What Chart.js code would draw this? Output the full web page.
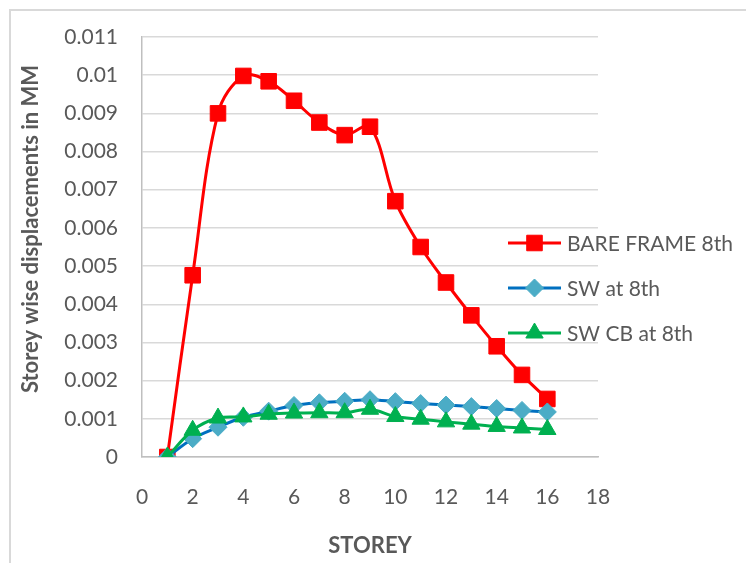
<!DOCTYPE html>
<html>
<head>
<meta charset="utf-8">
<script src="https://cdn.jsdelivr.net/npm/chart.js@4/dist/chart.umd.min.js"></script>
<style>
  html, body { margin: 0; padding: 0; background: #ffffff; }
  #wrap { position: relative; width: 746px; height: 563px; overflow: hidden; }
  canvas { display: block; }
</style>
</head>
<body>
<div id="wrap"><canvas id="chart" width="746" height="563"></canvas></div>
<script>
// Storey numbers along the x axis
const storeys = [1, 2, 3, 4, 5, 6, 7, 8, 9, 10, 11, 12, 13, 14, 15, 16];

// Storey wise displacements (mm) for each model
const bareFrame8th = [0, 0.00476, 0.0090, 0.00998, 0.00984, 0.00933, 0.00876, 0.00843, 0.00865,
                      0.0067, 0.0055, 0.00457, 0.00371, 0.0029, 0.00215, 0.00152];
const swAt8th      = [0, 0.00048, 0.00078, 0.00104, 0.0012, 0.00135, 0.00142, 0.00146, 0.0015,
                      0.00145, 0.0014, 0.00136, 0.00132, 0.00127, 0.00122, 0.00118];
const swCbAt8th    = [0, 0.0007, 0.00102, 0.00105, 0.00112, 0.00115, 0.00116, 0.00116, 0.00125,
                      0.00106, 0.00099, 0.00092, 0.00086, 0.0008, 0.00076, 0.00072];

const seriesNames = ['BARE FRAME 8th', 'SW at 8th', 'SW CB at 8th'];

// Axis tick labels and titles
const yTickLabels = ['0', '0.001', '0.002', '0.003', '0.004', '0.005', '0.006',
                     '0.007', '0.008', '0.009', '0.01', '0.011'];
const xTickLabels = ['0', '2', '4', '6', '8', '10', '12', '14', '16', '18'];
const xTitle = 'STOREY';
const yTitle = 'Storey wise displacements in MM';

const FONT = 'Lato, "Open Sans", "DejaVu Sans", sans-serif';
const TEXT = '#595959';

const toPoints = (vals) => vals.map((v, i) => ({ x: storeys[i], y: v }));

// Light outer frame around the chart
const frame = {
  id: 'frame',
  beforeDraw(chart) {
    const ctx = chart.ctx;
    ctx.save();
    ctx.strokeStyle = '#d9d9d9';
    ctx.lineWidth = 2;
    ctx.strokeRect(10, 10, 800, 600);
    ctx.restore();
  }
};

// Vertical axis title, set a little above the middle of the axis
const yAxisTitle = {
  id: 'yAxisTitle',
  afterDraw(chart) {
    const ctx = chart.ctx;
    ctx.save();
    ctx.translate(31, 229);
    ctx.rotate(-Math.PI / 2);
    ctx.fillStyle = TEXT;
    ctx.font = 'bold 22px ' + FONT;
    ctx.textAlign = 'center';
    ctx.textBaseline = 'middle';
    ctx.fillText(yTitle, 0, 0);
    ctx.restore();
  }
};

// Legend drawn at the right of the plot, one row per series
const sideLegend = {
  id: 'sideLegend',
  afterDraw(chart) {
    const ctx = chart.ctx;
    const x0 = 508, x1 = 561, textX = 567;
    const rows = [243, 288, 333];
    ctx.save();
    chart.data.datasets.forEach((ds, i) => {
      const y = rows[i];
      ctx.strokeStyle = ds.borderColor;
      ctx.lineWidth = ds.borderWidth;
      ctx.beginPath();
      ctx.moveTo(x0, y);
      ctx.lineTo(x1, y);
      ctx.stroke();
      ctx.fillStyle = ds.pointBackgroundColor;
      ctx.strokeStyle = ds.pointBorderColor;
      ctx.lineWidth = ds.pointBorderWidth;
      Chart.helpers.drawPoint(ctx, {
        pointStyle: ds.pointStyle,
        rotation: 0,
        radius: ds.pointRadius,
        borderWidth: ds.pointBorderWidth
      }, (x0 + x1) / 2, y);
      ctx.fillStyle = TEXT;
      ctx.font = '21px ' + FONT;
      ctx.textBaseline = 'middle';
      ctx.textAlign = 'left';
      ctx.fillText(ds.label, textX, y + 1);
    });
    ctx.restore();
  }
};

new Chart(document.getElementById('chart'), {
  type: 'line',
  data: {
    datasets: [
      {
        label: seriesNames[0],
        data: toPoints(bareFrame8th),
        borderColor: '#ff0000',
        borderWidth: 3,
        pointStyle: 'rect',
        pointRadius: 11,
        pointBackgroundColor: '#ff0000',
        pointBorderColor: '#ff0000',
        pointBorderWidth: 1,
        tension: 0.35,
        order: 2
      },
      {
        label: seriesNames[1],
        data: toPoints(swAt8th),
        borderColor: '#0070c0',
        borderWidth: 3,
        pointStyle: 'rectRot',
        pointRadius: 9,
        pointBackgroundColor: '#4bacc6',
        pointBorderColor: '#4bacc6',
        pointBorderWidth: 1,
        tension: 0.35,
        order: 1
      },
      {
        label: seriesNames[2],
        data: toPoints(swCbAt8th),
        borderColor: '#00b050',
        borderWidth: 3,
        pointStyle: 'triangle',
        pointRadius: 10,
        pointBackgroundColor: '#00b050',
        pointBorderColor: '#00b050',
        pointBorderWidth: 1,
        tension: 0.35,
        order: 0
      }
    ]
  },
  options: {
    responsive: false,
    devicePixelRatio: 1,
    animation: false,
    events: [],
    layout: { padding: { left: 0, top: 37, right: 148, bottom: 0 } },
    plugins: {
      legend: { display: false },
      tooltip: { enabled: false }
    },
    scales: {
      x: {
        type: 'linear',
        min: 0,
        max: 18,
        ticks: {
          stepSize: 2,
          padding: 28,
          color: TEXT,
          font: { family: FONT, size: 21 },
          maxRotation: 0,
          callback: (v, i) => xTickLabels[i]
        },
        grid: { display: false, drawTicks: false },
        border: { display: true, color: '#bfbfbf', width: 1.5 },
        title: {
          display: true,
          text: xTitle,
          color: TEXT,
          font: { family: FONT, size: 22, weight: 'bold' },
          padding: { top: 4, bottom: 4 }
        },
        afterFit(scale) { scale.height = 106; }
      },
      y: {
        min: 0,
        max: 0.011,
        ticks: {
          stepSize: 0.001,
          padding: 24,
          color: TEXT,
          font: { family: FONT, size: 21 },
          callback: (v, i) => yTickLabels[i]
        },
        grid: { color: '#d9d9d9', lineWidth: 1.5, drawTicks: false },
        border: { display: true, color: '#bfbfbf', width: 1.5 },
        title: { display: false },
        afterFit(scale) { scale.width = 142; }
      }
    }
  },
  plugins: [frame, yAxisTitle, sideLegend]
});
</script>
</body>
</html>
